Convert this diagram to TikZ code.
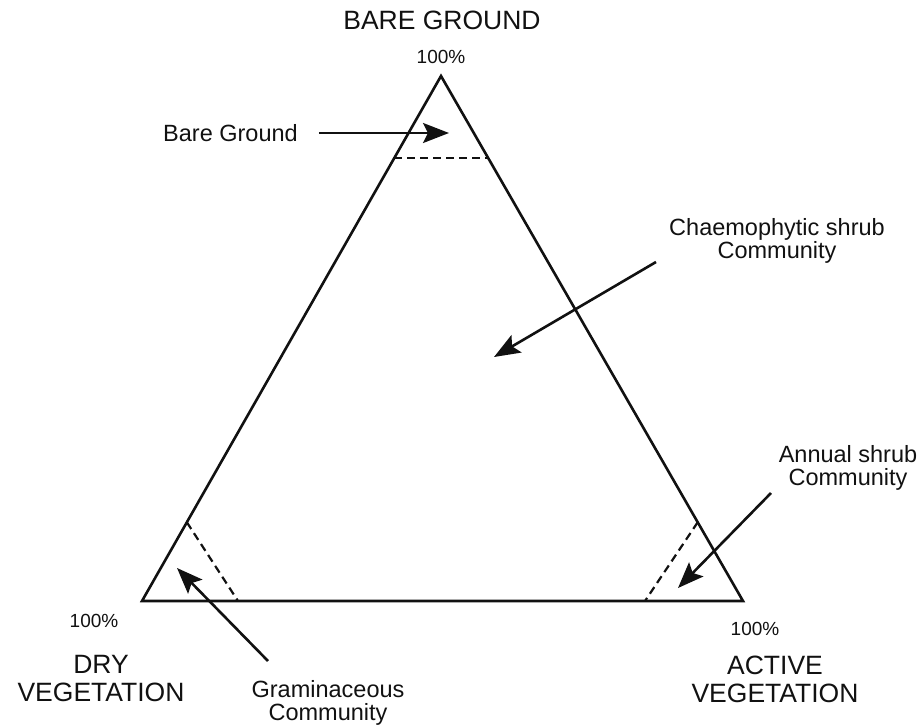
\documentclass[tikz,border=0pt]{standalone}
\usepackage{fontspec}
\setmainfont{Liberation Sans}
\usetikzlibrary{arrows.meta,calc,positioning}
\definecolor{tdInk}{HTML}{111111}
\tikzset{
  every node/.style={text=tdInk, inner sep=0pt},
  edgeLine/.style={draw=tdInk, line width=2.6pt, line join=miter},
  zoneLine/.style={draw=tdInk, line width=2.2pt, dash pattern=on 8pt off 5pt},
  pointer/.style={-{Stealth[length=26pt,width=20pt,inset=5pt]},
    line width=2.6pt, color=tdInk},
  cornerTitle/.style={font=\fontsize{26.5}{28}\selectfont, align=center, anchor=base},
  cornerPct/.style={font=\fontsize{19}{22}\selectfont, anchor=base},
  zoneLabel/.style={font=\fontsize{23.5}{22.5}\selectfont, align=center, anchor=base},
}

\begin{document}
\begin{tikzpicture}[x=1pt,y=-1pt]
  \useasboundingbox (0,0) rectangle (919,726);

  % Ternary triangle.
  \coordinate (apexBG) at (441,76);
  \coordinate (cornerDV) at (142,601);
  \coordinate (cornerAV) at (743,601);
  \draw[edgeLine] (apexBG) -- (cornerDV) -- (cornerAV) -- cycle;

  % Community limits.
  \draw[zoneLine] ($(apexBG)!0.156!(cornerDV)$) -- ($(apexBG)!0.156!(cornerAV)$);
  \draw[zoneLine] ($(apexBG)!0.85!(cornerDV)$) -- (238,601);
  \draw[zoneLine] ($(apexBG)!0.85!(cornerAV)$) -- (645,601);

  % Corner titles (base = last line).
  \node[cornerTitle] (bgTitle) at (442,29) {BARE GROUND};
  \node[cornerPct] (bgPct) at (441,63) {100\%};
  \node[cornerPct] (dvPct) at (94,627) {100\%};
  \node[cornerTitle] (dvTitle) at (101,701) {DRY\\VEGETATION};
  \node[cornerPct] (avPct) at (755,635) {100\%};
  \node[cornerTitle] (avTitle) at (775,702) {ACTIVE\\VEGETATION};

  % Community labels and pointers.
  \node[zoneLabel, anchor=base west] (bareLbl) at (163,141) {Bare Ground};
  \coordinate (bareTip) at (449,133);
  \draw[pointer] ([xshift=21pt,yshift=8pt]bareLbl.base east) -- (bareTip);

  \node[zoneLabel] (chaeLbl) at (777,258) {Chaemophytic shrub\\Community};
  \coordinate (chaeTail) at (656,262);
  \coordinate (chaeTip) at (494,357);
  \draw[pointer] (chaeTail) -- (chaeTip);

  \node[zoneLabel] (annLbl) at (848,485) {Annual shrub\\Community};
  \coordinate (annTail) at (771,493);
  \coordinate (annTip) at (678,588);
  \draw[pointer] (annTail) -- (annTip);

  \node[zoneLabel] (gramLbl) at (328,720) {Graminaceous\\Community};
  \coordinate (gramTail) at (268,661);
  \coordinate (gramTip) at (177,568);
  \draw[pointer] (gramTail) -- (gramTip);
\end{tikzpicture}
\end{document}
